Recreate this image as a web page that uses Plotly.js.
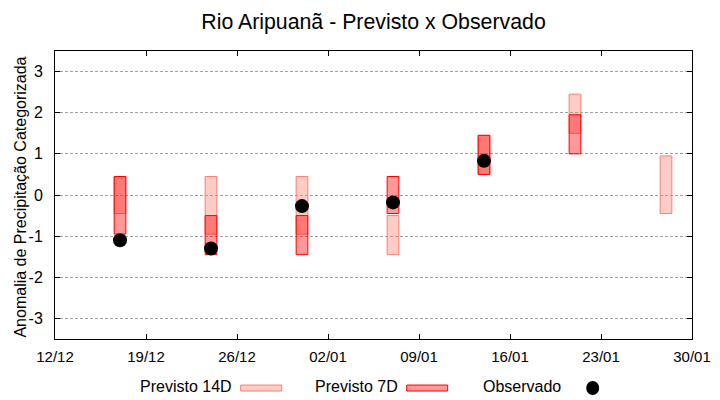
<!DOCTYPE html>
<html>
<head>
<meta charset="utf-8">
<script src="https://cdn.plot.ly/plotly-3.0.1.min.js"></script>
<style>html,body{margin:0;padding:0;background:#fff;}#chart{width:720px;height:400px;}</style>
</head>
<body>
<div id="chart"></div>
<script>
// ---- data ----
const dates    = ['2023-12-17','2023-12-24','2023-12-31','2024-01-07','2024-01-14','2024-01-21','2024-01-28'];
const p14Low   = [-0.45, -0.95, -0.95, -1.45, 0.50, 1.50, -0.45];
const p14High  = [ 0.45,  0.45,  0.45, -0.50, 1.45, 2.45,  0.95];
const p7Low    = [-0.95, -1.45, -1.45, -0.45, 0.50, 1.00, null];
const p7High   = [ 0.45, -0.50, -0.50,  0.45, 1.45, 1.95, null];
const observed = [-1.10, -1.30, -0.27, -0.18, 0.83, null, null];
const tickDates  = ['2023-12-12','2023-12-19','2023-12-26','2024-01-02','2024-01-09','2024-01-16','2024-01-23','2024-01-30'];
const tickLabels = ['12/12','19/12','26/12','02/01','09/01','16/01','23/01','30/01'];
const yTicks = [-3,-2,-1,0,1,2,3];
const legendNames = ['Previsto 14D','Previsto 7D','Observado'];
const yTitle = 'Anomalia de Precipitação Categorizada';

// ---- layout helpers ----
const W = 720, H = 400;
const L = 55.3, R = 692.3, T = 51.3, B = 339;
const px = x => (x - L) / (R - L);
const py = y => (B - y) / (B - T);
const DAY = 86400000;
const barW = dates.map(() => 0.9 * DAY);
const diff = (hi, lo) => hi.map((h, i) => (h === null || lo[i] === null) ? null : +(h - lo[i]).toFixed(4));

const c14Fill = 'rgba(250,128,114,0.4)', c14Line = 'rgb(250,128,114)';
const c7Fill  = 'rgba(255,0,0,0.4)',     c7Line  = 'rgb(255,0,0)';

const traces = [
  {type:'bar', x:dates, base:p14Low, y:diff(p14High,p14Low), width:barW,
   marker:{color:c14Fill, line:{color:c14Line, width:1}}, name:legendNames[0], showlegend:false, hoverinfo:'skip'},
  {type:'bar', x:dates, base:p7Low, y:diff(p7High,p7Low), width:barW,
   marker:{color:c7Fill, line:{color:c7Line, width:1}}, name:legendNames[1], showlegend:false, hoverinfo:'skip'},
  {type:'scatter', mode:'markers', x:dates, y:observed, name:legendNames[2], showlegend:false,
   marker:{color:'black', size:14, symbol:'circle'}, hoverinfo:'skip'}
];

const font = 'Liberation Sans, Arial, sans-serif';
const legY = py(386);
const shapes = [
  {type:'rect', xref:'paper', yref:'paper', xsizemode:'pixel', ysizemode:'pixel', xanchor:px(241), yanchor:py(388),
   x0:0, x1:41, y0:-3, y1:3, fillcolor:c14Fill, line:{color:c14Line, width:1}},
  {type:'rect', xref:'paper', yref:'paper', xsizemode:'pixel', ysizemode:'pixel', xanchor:px(407), yanchor:py(388),
   x0:0, x1:41, y0:-3, y1:3, fillcolor:c7Fill, line:{color:c7Line, width:1}},
  {type:'circle', xref:'paper', yref:'paper', xsizemode:'pixel', ysizemode:'pixel', xanchor:px(593), yanchor:py(388),
   x0:-6.5, x1:6.5, y0:-7, y1:7, fillcolor:'black', line:{color:'black', width:0}}
];
const annotations = [
  {text:legendNames[0], xref:'paper', yref:'paper', x:px(234.5), y:legY, xanchor:'right', yanchor:'middle', showarrow:false, font:{family:font, size:16, color:'#000'}},
  {text:legendNames[1], xref:'paper', yref:'paper', x:px(400.5), y:legY, xanchor:'right', yanchor:'middle', showarrow:false, font:{family:font, size:16, color:'#000'}},
  {text:legendNames[2], xref:'paper', yref:'paper', x:px(563.5), y:legY, xanchor:'right', yanchor:'middle', showarrow:false, font:{family:font, size:16, color:'#000'}},
  {text:yTitle, xref:'paper', yref:'paper', x:px(21), y:py(197), xanchor:'center', yanchor:'middle', textangle:-90, showarrow:false, font:{family:font, size:16, color:'#000'}}
];

const layout = {
  width:W, height:H,
  margin:{l:L, r:W-R, t:T, b:H-B, pad:0},
  paper_bgcolor:'#fff', plot_bgcolor:'#fff',
  barmode:'overlay', bargap:0,
  font:{family:font, color:'#000'},
  title:{text:'Rio Aripuanã - Previsto x Observado', font:{family:font, size:21.3, color:'#000'},
         xref:'paper', x:0.5, xanchor:'center', yref:'container', y:1-22/H, yanchor:'middle'},
  xaxis:{type:'date', range:['2023-12-12','2024-01-30'], tickvals:tickDates, ticktext:tickLabels,
         showgrid:false, zeroline:false, showline:true, linecolor:'#000', linewidth:1, mirror:'allticks',
         ticks:'inside', ticklen:5, tickcolor:'#000', tickwidth:1, tickfont:{family:font, size:15, color:'#000'},
         ticklabelstandoff:4, fixedrange:true},
  yaxis:{range:[-3.5,3.5], tickvals:yTicks, ticktext:yTicks.map(String),
         showgrid:true, gridcolor:'#a0a0a0', griddash:'3px,2px', gridwidth:1,
         zeroline:false, showline:true, linecolor:'#000', linewidth:1, mirror:'allticks',
         ticks:'inside', ticklen:5, tickcolor:'#000', tickwidth:1, tickfont:{family:font, size:16, color:'#000'},
         ticklabelstandoff:8, fixedrange:true},
  shapes:shapes, annotations:annotations, showlegend:false
};

Plotly.newPlot('chart', traces, layout, {displayModeBar:false, staticPlot:true});
</script>
</body>
</html>
